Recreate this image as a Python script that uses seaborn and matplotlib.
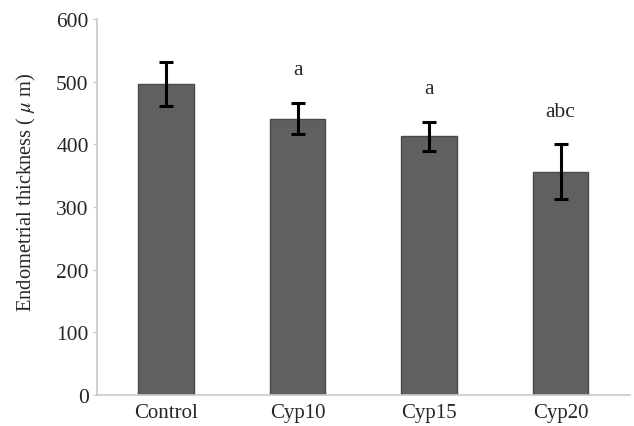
import numpy as np
import pandas as pd
import seaborn as sns
import matplotlib.pyplot as plt

groups = ["Control", "Cyp10", "Cyp15", "Cyp20"]
means = [496, 441, 413, 356]
sds = [35, 25, 23, 44]
letters = ["", "a", "a", "abc"]

df = pd.DataFrame({"group": groups, "thickness": means})

sns.set_style("white")
plt.rcParams["font.family"] = ["Liberation Serif", "DejaVu Serif"]
plt.rcParams["mathtext.fontset"] = "stix"

fig = plt.figure(figsize=(6.34, 4.27), dpi=100)
ax = fig.add_axes([0.153, 0.073, 0.841, 0.880])

sns.barplot(data=df, x="group", y="thickness", color="#606060", width=0.42,
            edgecolor="#4a4a4a", linewidth=1, saturation=1, errorbar=None, ax=ax)
ax.errorbar(np.arange(len(groups)), means, yerr=sds, fmt="none", ecolor="black",
            elinewidth=2.2, capsize=5, capthick=2.2)

for i, (m, s, lab) in enumerate(zip(means, sds, letters)):
    if lab:
        ax.text(i, m + s + 38, lab, ha="center", va="bottom", fontsize=15.5)

ax.set_ylim(0, 600)
ax.set_xlim(-0.525, 3.53)
ax.set_yticks(range(0, 601, 100))
ax.set_xlabel("")
ax.set_ylabel(r"Endometrial thickness ( $\mu$ m)", fontsize=14.8)
ax.yaxis.set_label_coords(-0.11, 0.543)

for side in ["top", "right"]:
    ax.spines[side].set_visible(False)
for side in ["left", "bottom"]:
    ax.spines[side].set_color("#c8c8c8")
    ax.spines[side].set_linewidth(1.2)

ax.tick_params(axis="y", length=3, color="#c8c8c8", labelsize=15.5, pad=3, left=True)
ax.tick_params(axis="x", length=0, labelsize=15, pad=6)

fig.savefig("out.png", dpi=100)
